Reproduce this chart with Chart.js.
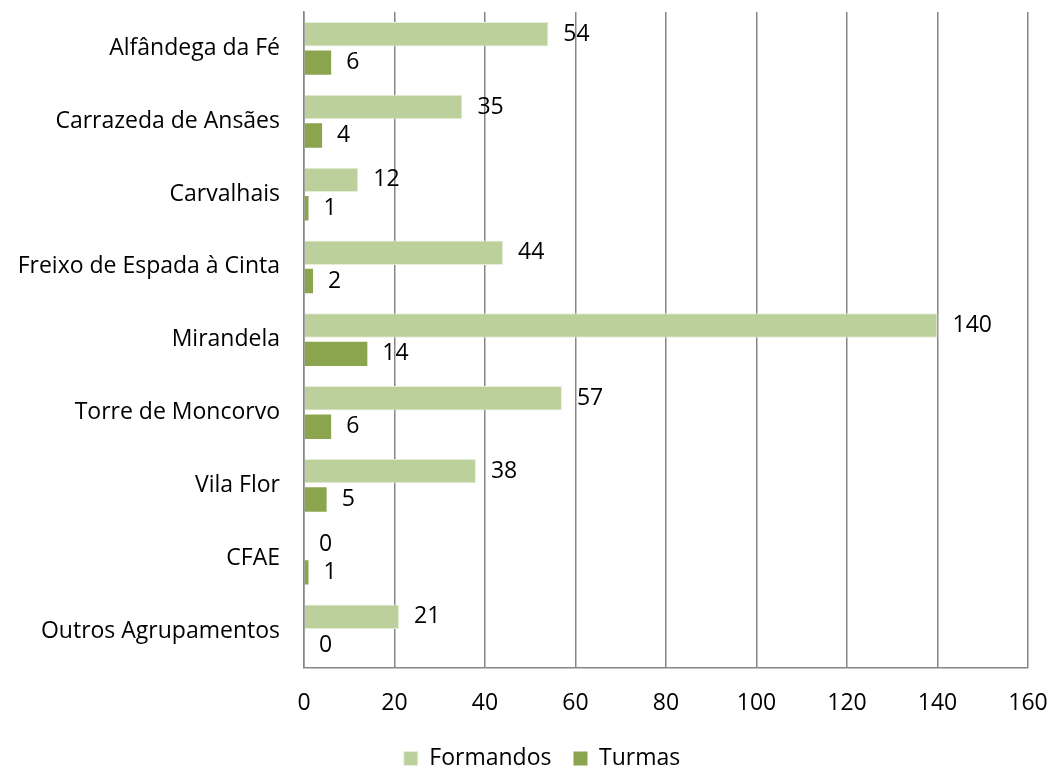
<!DOCTYPE html>
<html>
<head>
<meta charset="utf-8">
<script src="https://cdn.jsdelivr.net/npm/chart.js@4/dist/chart.umd.min.js"></script>
<style>
  body { margin: 0; background: #fff; }
  #wrap { width: 1052px; height: 769px; position: relative; }
</style>
</head>
<body>
<div id="wrap"><canvas id="chart"></canvas></div>
<script>
/* ================= DATA ================= */
const categories = [
  "Alfândega da Fé", "Carrazeda de Ansães", "Carvalhais", "Freixo de Espada à Cinta",
  "Mirandela", "Torre de Moncorvo", "Vila Flor", "CFAE", "Outros Agrupamentos"
];
const formandos = [54, 35, 12, 44, 140, 57, 38, 0, 21];
const turmas = [6, 4, 1, 2, 14, 6, 5, 1, 0];
const xTicks = [0, 20, 40, 60, 80, 100, 120, 140, 160];

const FONT = "'Open Sans', sans-serif";
const SIZE = 23;

/* ================= VALUE LABELS ================= */
const valueLabels = {
  id: "valueLabels",
  afterDatasetsDraw(chart) {
    const ctx = chart.ctx;
    ctx.save();
    ctx.font = SIZE + "px " + FONT;
    ctx.fillStyle = "#000";
    ctx.textAlign = "left";
    ctx.textBaseline = "middle";
    chart.data.datasets.forEach((ds, i) => {
      chart.getDatasetMeta(i).data.forEach((bar, j) => {
        ctx.fillText(String(ds.data[j]), bar.x + 15, bar.y);
      });
    });
    ctx.restore();
  }
};

/* ================= CHART ================= */
new Chart(document.getElementById("chart"), {
  type: "bar",
  data: {
    labels: categories,
    datasets: [
      { label: "Formandos", data: formandos, backgroundColor: "#BBD09A",
        borderColor: "#E6EEDA", borderWidth: 1, borderSkipped: "left" },
      { label: "Turmas", data: turmas, backgroundColor: "#8BA54E" }
    ]
  },
  options: {
    indexAxis: "y",
    responsive: true,
    maintainAspectRatio: false,
    animation: false,
    layout: { padding: { top: 12, right: 24, left: 56, bottom: -11 } },
    datasets: { bar: { categoryPercentage: 0.78, barPercentage: 0.86 } },
    plugins: {
      legend: {
        position: "bottom",
        labels: {
          font: { family: FONT, size: SIZE }, color: "#000",
          boxWidth: 14, boxHeight: 14, padding: 22
        }
      },
      tooltip: { enabled: false }
    },
    scales: {
      x: {
        min: 0, max: 160,
        afterBuildTicks: s => { s.ticks = xTicks.map(v => ({ value: v })); },
        afterFit: s => { s.paddingLeft = 0; s.paddingRight = 0; s.height -= 14; },
        grid: { color: "#868686", lineWidth: 1.5, drawTicks: false },
        border: { color: "#868686", width: 1.5 },
        ticks: { font: { family: FONT, size: SIZE }, color: "#000", padding: 22 }
      },
      y: {
        afterFit: s => {
          s.width = 248; s.paddingTop = 0; s.paddingBottom = 0;
          s._computeLabelArea = () => undefined; // let long labels run past the axis box
        },
        grid: { display: false, drawTicks: false },
        border: { color: "#868686", width: 1.5 },
        ticks: { font: { family: FONT, size: SIZE }, color: "#000", padding: 24 }
      }
    }
  },
  plugins: [valueLabels]
});
</script>
</body>
</html>
